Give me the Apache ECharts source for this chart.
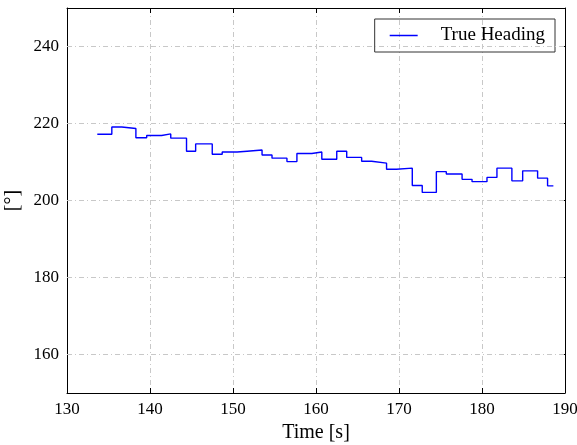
<!DOCTYPE html>
<html><head><meta charset="utf-8">
<script src="https://cdn.jsdelivr.net/npm/echarts@6/dist/echarts.min.js"></script>
<style>html,body{margin:0;padding:0;background:#fff}#c{width:577px;height:445px}</style>
</head><body><div id="c"></div>
<script>
var times = [133.65, 135.4, 136.6, 138.3, 139.6, 141.4, 142.5, 144.4, 145.5, 147.5, 148.7, 150.5, 151.7, 153.5, 154.7, 156.5, 157.7, 159.5, 160.7, 162.5, 163.7, 165.5, 166.7, 168.5, 169.7, 171.6, 172.8, 174.5, 175.7, 177.6, 178.8, 180.6, 181.8, 183.6, 184.9, 186.7, 187.9, 188.6];
var headings = [217.2, 219.1, 218.7, 216.3, 216.9, 217.3, 216.2, 212.8, 214.7, 212.0, 212.6, 212.8, 213.1, 211.8, 211.0, 210.1, 212.2, 212.6, 210.7, 212.8, 211.2, 210.2, 209.7, 208.1, 208.4, 203.9, 202.1, 207.5, 206.9, 205.5, 204.9, 206.0, 208.4, 205.1, 207.7, 205.8, 203.8, 203.8];
var xTicks = [130, 140, 150, 160, 170, 180, 190];
var yTicks = [160, 180, 200, 220, 240];
var seriesName = 'True Heading';

var FONT = 'Liberation Serif';
var gridLine = {show: true, lineStyle: {color: '#c8c8c8', width: 1, type: [5, 3, 1, 3]}};
function xAx(pos, showLab) {
  return {
    type: 'value', position: pos, min: 130, max: 190, interval: 10,
    axisLine: {show: true, onZero: false, lineStyle: {color: '#000', width: 1}},
    axisTick: {show: true, inside: true, length: 5, lineStyle: {color: '#000'}},
    axisLabel: {show: showLab, margin: 8, color: '#000', fontFamily: FONT, fontSize: 17},
    splitLine: showLab ? gridLine : {show: false},
    name: showLab ? 'Time [s]' : '', nameLocation: 'middle', nameGap: 27,
    nameTextStyle: {color: '#000', fontFamily: FONT, fontSize: 20}
  };
}
function yAx(pos, showLab) {
  return {
    type: 'value', position: pos, min: 150, max: 250,
    axisLine: {show: true, onZero: false, lineStyle: {color: '#000', width: 1}},
    axisTick: {show: true, inside: true, length: 5, customValues: yTicks, lineStyle: {color: '#000'}},
    axisLabel: {show: showLab, margin: 8, color: '#000', fontFamily: FONT, fontSize: 17, customValues: yTicks},
    splitLine: {show: false},
    name: showLab ? '[°]' : '', nameLocation: 'middle', nameGap: 40, nameRotate: 90,
    nameTextStyle: {color: '#000', fontFamily: FONT, fontSize: 20}
  };
}
var chart = echarts.init(document.getElementById('c'), null, {renderer: 'canvas'});
chart.setOption({
  animation: false,
  backgroundColor: '#fff',
  grid: {left: 67, right: 12, top: 8, bottom: 52, outerBoundsMode: 'none', containLabel: false},
  legend: {
    data: [{name: seriesName, icon: 'rect',
            itemStyle: {color: '#0000ff', borderColor: '#0000ff', borderWidth: 0},
            lineStyle: {color: '#0000ff', width: 0}}],
    right: 22, top: 19, orient: 'vertical',
    padding: [7, 10, 7, 15],
    itemWidth: 28, itemHeight: 1.5,
    borderColor: '#333', borderWidth: 1, borderRadius: 0,
    textStyle: {color: '#000', fontFamily: FONT, fontSize: 19, lineHeight: 19, padding: [0, 0, 0, 18]}
  },
  xAxis: [xAx('bottom', true), xAx('top', false)],
  yAxis: [yAx('left', true), yAx('right', false)],
  series: [{
    name: seriesName, type: 'line', step: 'end', xAxisIndex: 0, yAxisIndex: 0,
    data: times.map(function (t, i) { return [t, headings[i]]; }),
    showSymbol: false, symbol: 'none',
    lineStyle: {color: '#0000ff', width: 1.4},
    itemStyle: {color: '#0000ff'},
    markLine: {
      silent: true, symbol: 'none', label: {show: false},
      lineStyle: {color: '#c8c8c8', width: 1, type: [5, 3, 1, 3]},
      data: yTicks.map(function (v) { return {yAxis: v}; })
    },
    z: 3
  }]
});
</script></body></html>
